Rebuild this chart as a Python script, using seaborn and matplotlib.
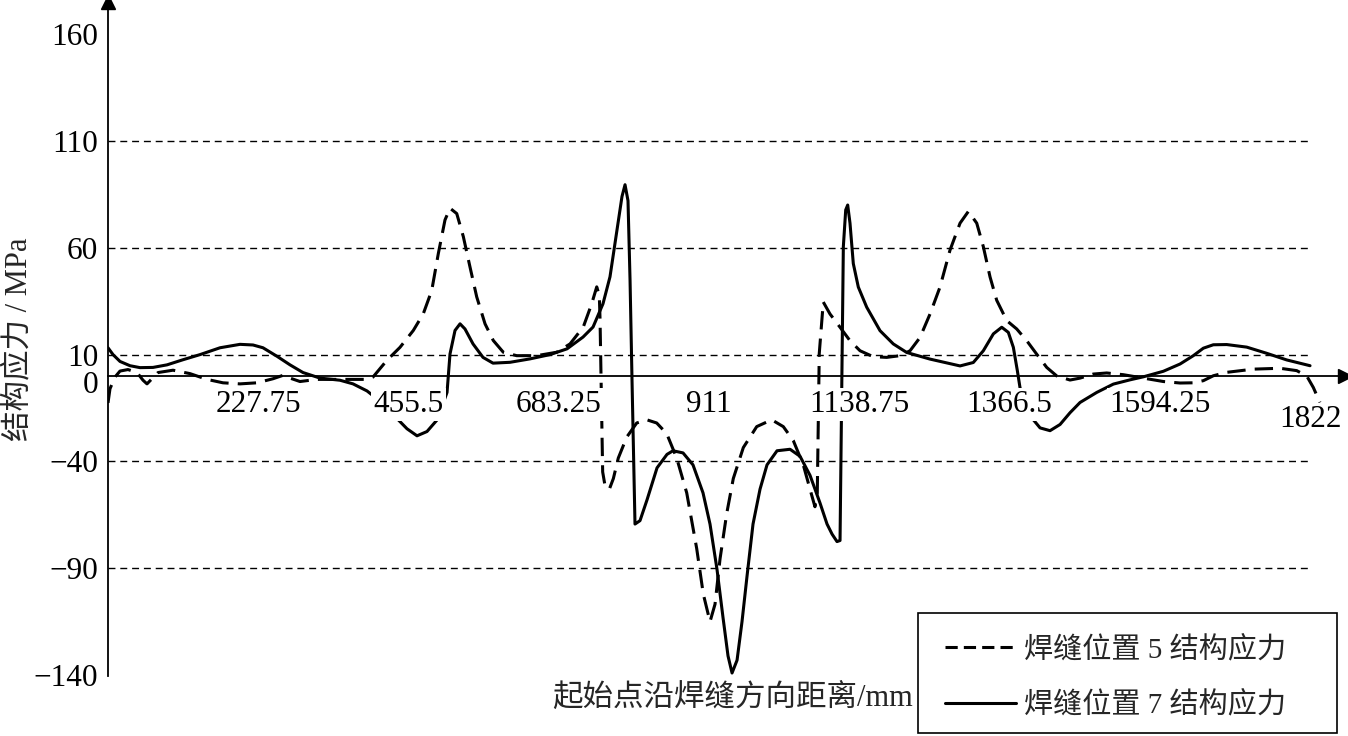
import numpy as np
import pandas as pd
import matplotlib
matplotlib.use("Agg")
import matplotlib.pyplot as plt
import matplotlib.transforms as mtransforms
from matplotlib.lines import Line2D
from matplotlib.patches import Rectangle
import seaborn as sns

# 焊缝位置 5 结构应力 (dashed)
x5 = [0, 3.0, 10.6, 18.2, 30.3, 44.0, 53.1, 59.1, 66.7, 75.8, 98.5, 124.3, 150.1,
      174.3, 200.1, 225.9, 250.1, 265.3, 275.9, 291.0, 316.8, 356.2, 392.6, 401.7,
      422.4, 442.6, 462.8, 477.9, 490.7, 500.7, 510.8, 518.4, 528.6, 538.6, 548.7,
      558.9, 571.5, 584.0, 599.2, 619.5, 649.8, 680.1, 700.3, 720.4, 733.2, 740.8,
      744.7, 745.8, 749.8, 753.4, 759.9, 766.0, 773.5, 786.3, 801.4, 816.6, 831.7,
      846.9, 862.0, 877.2, 892.3, 902.3, 912.5, 920.1, 927.7, 937.8, 947.8, 963.0,
      983.3, 1006.0, 1023.6, 1038.7, 1053.9, 1064.1, 1071.6, 1075.1, 1078.1, 1084.2,
      1094.4, 1109.6, 1124.7, 1139.9, 1160.0, 1180.3, 1200.5, 1215.7, 1230.8, 1246.0,
      1261.1, 1276.3, 1291.5, 1304.1, 1316.8, 1326.8, 1337.0, 1347.1, 1362.3, 1377.4,
      1392.6, 1407.7, 1422.9, 1438.1, 1458.2, 1473.4, 1493.5, 1513.8, 1539.0, 1569.3,
      1599.7, 1625.0, 1645.1, 1660.3, 1675.4, 1695.7, 1736.1, 1776.5, 1801.8, 1817.0,
      1827.0, 1837.0]
y5 = [-12.6, -6.0, -0.5, 2.3, 3.0, 1.6, -2.0, -3.7, -1.3, 1.6, 2.7, 1.1, -1.6,
      -3.2, -3.7, -3.2, -1.3, 0.3, -1.0, -2.6, -1.6, -1.6, -1.6, -0.5,
      7.2, 13.4, 21.3, 29.1, 40.0, 57.3, 73.0, 78.5, 76.0, 65.2, 51.0,
      37.0, 24.4, 16.6, 11.1, 9.5, 9.5, 11.1, 15.0, 22.9, 33.8, 41.7,
      37.7, 26.8, -44.9, -51.4, -53.0, -48.0, -38.4, -28.6, -22.0, -20.5, -22.0,
      -27.0, -38.4, -54.7, -80.7, -102.0, -115.0, -106.8, -85.6, -64.4, -48.0, -33.5,
      -23.7, -20.5, -23.7, -30.2, -41.6, -53.0, -61.2, -54.7, 10.5, 34.6,
      29.0, 22.8, 16.5, 11.8, 9.0, 8.7, 9.5, 11.8, 18.0, 29.0,
      41.6, 58.9, 71.5, 77.0, 71.5, 60.5, 46.3, 35.4, 25.9, 22.0,
      16.5, 10.2, 4.0, 0.0, -1.9, -1.0, 0.9, 1.4, 0.6, -1.0,
      -2.6, -3.3, -3.2, -2.2, 0.1, 1.7, 3.2, 3.6, 2.5, 0.0,
      -5.4, -12.4]

# 焊缝位置 7 结构应力 (solid)
x7 = [0, 7.6, 18.2, 33.3, 48.5, 68.2, 89.4, 113.7, 139.5, 169.8, 200.1, 219.8,
      234.9, 256.2, 275.9, 295.6, 321.4, 351.7, 371.4, 392.6, 412.3, 432.0, 453.2,
      468.4, 483.5, 498.7, 513.9, 518.4, 526.0, 533.6, 541.1, 553.3, 568.4, 583.6,
      609.4, 639.7, 670.0, 695.8, 720.0, 735.2, 750.3, 760.9, 771.5, 779.1, 783.7,
      788.2, 791.3, 794.3, 798.8, 806.4, 817.0, 832.2, 847.3, 856.4, 871.6, 886.7,
      901.9, 912.5, 923.1, 932.2, 939.8, 945.9, 953.5, 961.0, 968.6, 977.7, 988.3,
      998.9, 1014.1, 1033.8, 1049.0, 1064.1, 1079.3, 1089.9, 1097.5, 1105.0, 1109.6,
      1114.6, 1118.2, 1121.2, 1124.7, 1129.7, 1137.3, 1150.0, 1170.2, 1190.3, 1210.6,
      1245.9, 1291.5, 1311.6, 1326.8, 1342.0, 1354.7, 1364.7, 1372.3, 1378.4, 1382.4,
      1400.2, 1412.8, 1427.9, 1443.1, 1458.2, 1473.4, 1498.7, 1523.9, 1549.3, 1569.3,
      1599.7, 1625.0, 1645.1, 1660.3, 1675.4, 1695.7, 1726.0, 1756.4, 1786.7, 1822.0]
y7 = [13.2, 10.0, 6.8, 4.8, 3.9, 4.0, 5.2, 7.6, 10.0, 13.2, 14.8, 14.5,
      13.2, 9.2, 5.2, 1.6, -1.0, -2.0, -3.7, -7.0, -11.8, -18.0, -24.7,
      -28.0, -26.0, -20.6, -7.7, 10.3, 21.3, 24.4, 22.0, 15.0, 8.7, 6.0,
      6.4, 8.0, 10.0, 12.7, 18.2, 22.9, 33.8, 46.4, 68.3, 84.0, 89.5,
      82.0, 44.8, -2.2, -69.3, -67.7, -58.0, -43.0, -36.7, -35.0, -36.0, -41.6,
      -54.7, -69.3, -90.5, -113.0, -131.0, -139.0, -133.0, -115.0, -93.7, -69.3, -53.0,
      -41.6, -35.0, -34.3, -37.6, -46.5, -59.5, -69.3, -74.0, -77.5, -77.0,
      60.5, 77.7, 80.0, 71.5, 52.6, 41.6, 32.2, 21.2, 15.0, 11.0,
      7.9, 4.7, 6.3, 11.8, 19.7, 22.8, 20.4, 13.4, 2.4, -5.5,
      -19.6, -24.3, -25.6, -22.7, -17.2, -12.4, -7.7, -3.8, -1.8, -0.4,
      2.2, 5.6, 9.5, 13.0, 14.6, 14.7, 13.5, 10.6, 7.5, 4.8]

series_names = ["焊缝位置 5 结构应力", "焊缝位置 7 结构应力"]
xticks = [227.75, 455.5, 683.25, 911, 1138.75, 1366.5, 1594.25, 1822]
xtick_labels = ["227.75", "455.5", "683.25", "911", "1138.75", "1366.5", "1594.25", "1822"]
yticks = [-140, -90, -40, 0, 10, 60, 110, 160]
grid_y = [110, 60, 10, -40, -90]

df = pd.concat([
    pd.DataFrame({"x": x5, "y": y5, "series": series_names[0]}),
    pd.DataFrame({"x": x7, "y": y7, "series": series_names[1]}),
], ignore_index=True)

sns.set_theme(style="white")
plt.rcParams['font.family'] = ['Liberation Serif', 'Noto Sans CJK SC']
plt.rcParams['axes.unicode_minus'] = True

fig = plt.figure(figsize=(13.48, 7.36), dpi=100)
ax = fig.add_axes([108 / 1348, 1 - 676 / 736, (1345 - 108) / 1348, (676 - 2) / 736])

sns.lineplot(data=df, x="x", y="y", style="series", color="black",
             dashes={series_names[0]: (6, 3), series_names[1]: ""},
             linewidth=2.2, sort=False, estimator=None, legend=False, ax=ax)

# dashed reference lines
ax.hlines(grid_y, 0, 1822, colors="black", linestyles=(0, (5, 3.5)), linewidth=1.0, zorder=1)

ax.set_xlim(0, 1875)
ax.set_ylim(-140.4, 175.0)

# axes through zero with arrows
ax.spines['top'].set_visible(False)
ax.spines['right'].set_visible(False)
ax.spines['bottom'].set_position(('data', 0))
for s in ['left', 'bottom']:
    ax.spines[s].set_color('black')
    ax.spines[s].set_linewidth(1.3)
ax.plot(1, 0, marker='>', color='black', markersize=10, transform=ax.get_yaxis_transform(), clip_on=False)
ax.plot(0, 1, marker='^', color='black', markersize=10, transform=ax.get_xaxis_transform(), clip_on=False)
ax.set_axisbelow(False)

ax.set_xticks(xticks)
ax.set_xticklabels(xtick_labels)
ax.set_yticks(yticks)
ax.set_yticklabels([str(v).replace('-', '\u2212') for v in yticks])
ax.tick_params(axis='both', direction='in', length=6, width=1.1, colors='black', labelsize=22.5)
ax.tick_params(axis='x', pad=10)
ax.tick_params(axis='y', pad=7)

for lab in ax.get_xticklabels():
    lab.set_bbox(dict(facecolor='white', edgecolor='none', pad=1.5))

# small offsets, as in the original figure
off_1822 = mtransforms.ScaledTranslation(0, -0.15, fig.dpi_scale_trans)
lab = ax.get_xticklabels()[-1]
lab.set_transform(lab.get_transform() + off_1822)
off_0 = mtransforms.ScaledTranslation(0, -0.06, fig.dpi_scale_trans)
lab0 = ax.get_yticklabels()[3]
lab0.set_transform(lab0.get_transform() + off_0)

ax.set_xlabel("起始点沿焊缝方向距离/mm", fontsize=22)
ax.xaxis.set_label_coords(0.505, -0.012)
ax.set_ylabel("结构应力 / MPa", fontsize=22)
ax.yaxis.set_label_coords(-0.060, 0.50)

# legend with a plain box
fig.patches.append(Rectangle((918 / 1348, 1 - 733 / 736), (1337 - 918) / 1348, (733 - 613) / 736,
                             transform=fig.transFigure, facecolor='white', edgecolor='black',
                             linewidth=1.2, zorder=3))
handles = [Line2D([], [], color='black', lw=2.2, dashes=(4, 2)),
           Line2D([], [], color='black', lw=2.2)]
leg = fig.legend(handles, series_names, loc='upper left',
                 bbox_to_anchor=(945 / 1348, 1 - 636 / 736), frameon=False,
                 fontsize=21, handlelength=2.45, handletextpad=0.25,
                 labelspacing=0.95, borderpad=0, borderaxespad=0)
leg.set_zorder(4)

fig.savefig("out.png", dpi=100)
